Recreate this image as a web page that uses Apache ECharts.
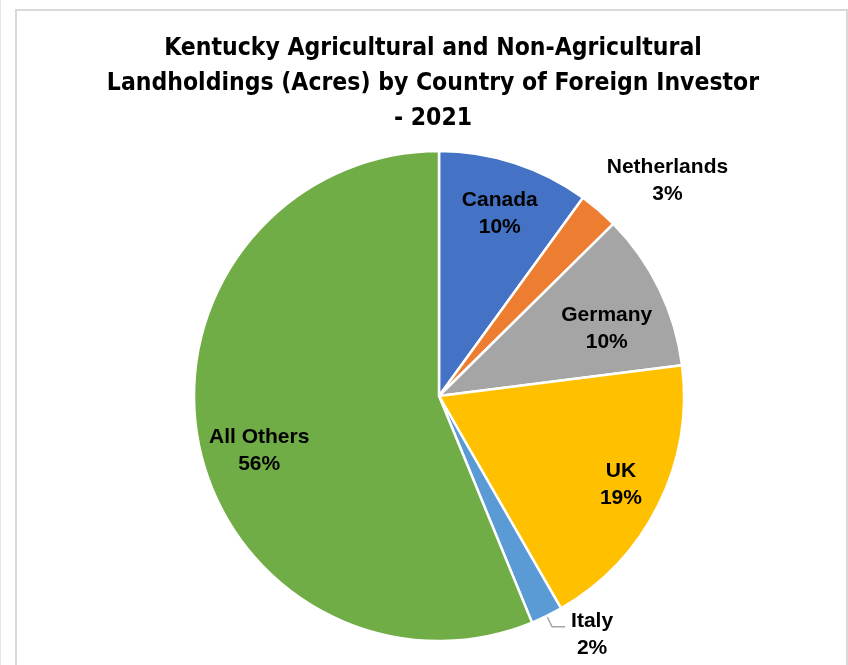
<!DOCTYPE html>
<html>
<head>
<meta charset="utf-8">
<script src="https://cdn.jsdelivr.net/npm/echarts@6/dist/echarts.min.js"></script>
<style>
  html, body { margin: 0; padding: 0; background: #ffffff; }
  #chart { width: 848px; height: 665px; }
</style>
</head>
<body>
<div id="chart"></div>
<script>
// Share of foreign-held acres in Kentucky, 2021 (percent of total)
const countries = ['Canada', 'Netherlands', 'Germany', 'UK', 'Italy', 'All Others'];
const shares = [10.0, 2.6, 10.4, 18.7, 2.1, 56.2];
const sliceColors = ['#4472C4', '#ED7D31', '#A5A5A5', '#FFC000', '#5B9BD5', '#70AD47'];
// labels drawn outside the pie (thin slices)
const outsideLabels = ['Netherlands', 'Italy'];

const titleText = 'Kentucky Agricultural and Non-Agricultural\nLandholdings (Acres) by Country of Foreign Investor\n- 2021';

const pieCenter = [439, 396];
const pieRadius = 245;
const labelFont = 'Liberation Sans';

// small nudges applied to the label blocks after the pie layout
const labelNudge = {
  'Canada': [0, 5],
  'Netherlands': [-23, 1],
  'Germany': [-9, 19],
  'UK': [6, 1],
  'Italy': [1, 8],
  'All Others': [13, 17]
};

const chart = echarts.init(document.getElementById('chart'), null, { renderer: 'canvas' });

const sliceData = countries.map((name, i) => ({
  name: name,
  value: shares[i],
  itemStyle: { color: sliceColors[i] }
}));

const labelData = countries.map((name, i) => {
  const outside = outsideLabels.includes(name);
  return {
    name: name,
    value: shares[i],
    label: { position: outside ? 'outside' : 'inside' },
    labelLine: outside
      ? (name === 'Italy'
          ? { show: true, length: 12, length2: 13, lineStyle: { color: '#A6A6A6', width: 1.5 } }
          : { show: false, length: 40, length2: 0 })
      : { show: false }
  };
});

const labelStyle = { fontFamily: labelFont, fontWeight: 'bold', fontSize: 21, lineHeight: 27, color: '#000', align: 'center' };
const labelRich = { n: labelStyle, p: labelStyle };

chart.setOption({
  animation: false,
  backgroundColor: '#ffffff',
  title: {
    text: titleText,
    left: 433,
    textAlign: 'center',
    top: 31,
    padding: 0,
    textStyle: {
      fontFamily: 'Liberation Sans Narrow, DejaVu Sans Condensed, sans-serif',
      fontWeight: 'bold',
      fontSize: 24.5,
      lineHeight: 35,
      color: '#000000'
    }
  },
  graphic: [
    {
      type: 'rect',
      silent: true,
      shape: { x: 16, y: 10, width: 831, height: 700 },
      style: { fill: 'none', stroke: '#D9D9D9', lineWidth: 2 }
    },
    {
      type: 'line',
      silent: true,
      shape: { x1: 0.5, y1: 0, x2: 0.5, y2: 665 },
      style: { stroke: '#E6E6E6', lineWidth: 1 }
    }
  ],
  series: [
    {
      type: 'pie',
      center: pieCenter,
      radius: [0, pieRadius],
      startAngle: 90,
      clockwise: true,
      silent: true,
      avoidLabelOverlap: false,
      label: { show: false },
      labelLine: { show: false },
      itemStyle: { borderColor: '#ffffff', borderWidth: 2.5 },
      data: sliceData
    },
    {
      // transparent ring that carries the category labels
      type: 'pie',
      center: pieCenter,
      radius: [pieRadius * 0.58, pieRadius],
      startAngle: 90,
      clockwise: true,
      silent: true,
      avoidLabelOverlap: false,
      itemStyle: { color: 'rgba(0,0,0,0)' },
      emphasis: { disabled: true },
      label: {
        show: true,
        formatter: p => '{n|' + p.name + '}\n{p|' + Math.round(p.percent) + '%}',
        rich: labelRich
      },
      labelLayout: function (params) {
        const nudge = labelNudge[countries[params.dataIndex]] || [0, 0];
        return { dx: nudge[0], dy: nudge[1] };
      },
      data: labelData
    }
  ]
});
</script>
</body>
</html>
